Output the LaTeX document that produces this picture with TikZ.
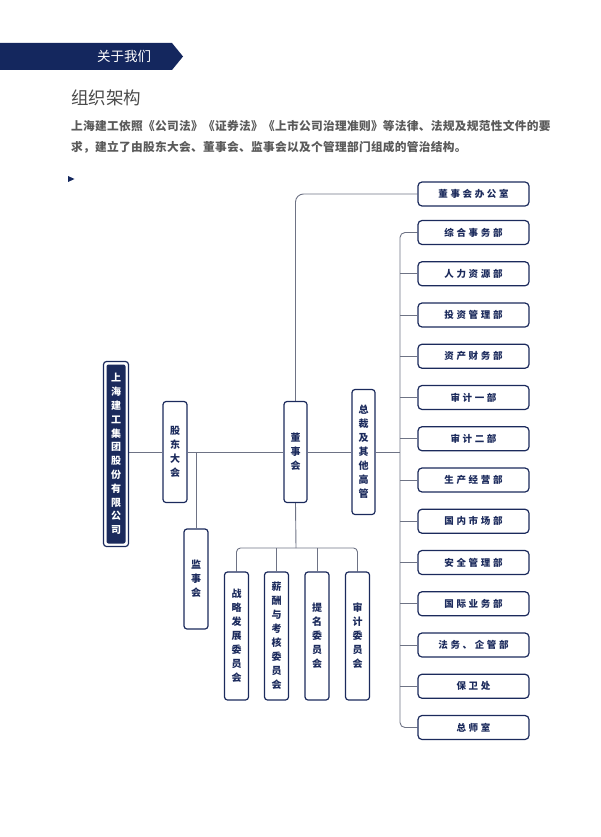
\documentclass[tikz,border=0pt]{standalone}
\usepackage{fontspec}
\newfontfamily\cjk{Noto Sans CJK SC}
\newfontfamily\cjkls[LetterSpace=28]{Noto Sans CJK SC}
\newfontfamily\cjkpara[LetterSpace=2.5]{Noto Sans CJK SC}
\usetikzlibrary{backgrounds}
\definecolor{navy}{HTML}{1B2A5C}
\definecolor{banner}{HTML}{14275E}
\definecolor{linec}{HTML}{6E7385}
\definecolor{titlec}{HTML}{4A4A4A}
\definecolor{parac}{HTML}{5A5A5A}
\tikzset{
  vbox/.style={draw=navy, line width=1.2pt, rounded corners=3pt, fill=white,
    minimum width=24pt, inner sep=0pt, align=center, text=navy,
    font=\cjk\bfseries\fontsize{10}{14}\selectfont},
  hbox/.style={draw=navy, line width=1.2pt, rounded corners=4pt, fill=white,
    minimum width=111pt, minimum height=24pt, inner sep=0pt, text=navy,
    font=\cjkls\bfseries\fontsize{9.5}{10}\selectfont},
  conn/.style={draw=linec, line width=0.9pt},
  para/.style={anchor=west, inner sep=0pt, text=parac, font=\cjkpara\bfseries\fontsize{11.7}{13}\selectfont},
}
\begin{document}
\begin{tikzpicture}[x=1pt,y=-1pt]
\useasboundingbox (0,0) rectangle (600,837);
% header
\fill[banner] (0,43) -- (172,43) -- (183,56.5) -- (172,70) -- (0,70) -- cycle;
\node[text=white, font=\cjk\fontsize{13.5}{14}\selectfont, inner sep=0pt] (hdr) at (124,56.5) {关于我们};
\node[anchor=west, inner sep=0pt, text=titlec, font=\cjk\fontsize{17.5}{19}\selectfont] (title) at (71,98) {组织架构};
\node[para] (p1) at (71,126) {上海建工依照《公司法》《证券法》《上市公司治理准则》等法律、法规及规范性文件的要};
\node[para] (p2) at (71,147) {求，建立了由股东大会、董事会、监事会以及个管理部门组成的管治结构。};
\fill[banner] (68,176) -- (74.5,179) -- (68,182) -- cycle;

% company
\node[draw=navy, line width=1.2pt, rounded corners=3pt, fill=white, minimum width=25pt, minimum height=185pt, inner sep=0pt] (co) at (116,454) {};
\node[fill=navy, rounded corners=2pt, minimum width=19pt, minimum height=179pt, inner sep=0pt, align=center, text=white,
  font=\cjk\bfseries\fontsize{10}{13.8}\selectfont] (coin) at (116,454) {上\\海\\建\\工\\集\\团\\股\\份\\有\\限\\公\\司};

\node[vbox, minimum height=101pt] (gd) at (175,452) {股\\东\\大\\会};
\node[vbox, minimum height=100pt] (jsh) at (196,579) {监\\事\\会};
\node[vbox, minimum height=101pt, minimum width=23pt] (dsh) at (295.5,452) {董\\事\\会};
\node[vbox, minimum height=125pt, minimum width=23pt] (zc) at (363.5,452) {总\\裁\\及\\其\\他\\高\\管};

\node[vbox, minimum height=128pt] (zl) at (236.5,636) {战\\略\\发\\展\\委\\员\\会};
\node[vbox, minimum height=128pt] (xc) at (276.5,636) {薪\\酬\\与\\考\\核\\委\\员\\会};
\node[vbox, minimum height=128pt] (tm) at (317,636) {提\\名\\委\\员\\会};
\node[vbox, minimum height=128pt] (sj) at (357.5,636) {审\\计\\委\\员\\会};

\node[hbox] (b0) at (473.5,194) {董事会办公室};
\foreach \t [count=\i] in {综合事务部,人力资源部,投资管理部,资产财务部,审计一部,审计二部,生产经营部,国内市场部,安全管理部,国际业务部,法务、企管部,保卫处,总师室}
  \node[hbox] (b\i) at (473.5,{232.5+41.25*(\i-1)}) {\t};

\coordinate (tr) at (400,452);
\coordinate (cbar) at (296,548);

\begin{scope}[on background layer]
\draw[conn] (co.east |- gd.west) -- (gd.west);
\draw[conn] (gd.east) -- (dsh.west);
\draw[conn] (dsh.east) -- (zc.west);
\draw[conn] (zc.east) -- (tr);
\draw[conn] (jsh.north) -- (jsh.north |- gd.east);
\draw[conn, rounded corners=8pt] (dsh.north) |- (b0.west);
\draw[conn] (dsh.south) -- (cbar);
\draw[conn, rounded corners=4pt] (zl.north) |- (cbar) -| (sj.north);
\draw[conn] (xc.north) -- (xc.north |- cbar);
\draw[conn] (tm.north) -- (tm.north |- cbar);
\draw[conn, rounded corners=5pt] (b1.west) -| (tr |- b13.west) -- (b13.west);
\foreach \i in {2,...,12}
  \draw[conn] (b\i.west) -- (tr |- b\i.west);
\end{scope}
\end{tikzpicture}
\end{document}
